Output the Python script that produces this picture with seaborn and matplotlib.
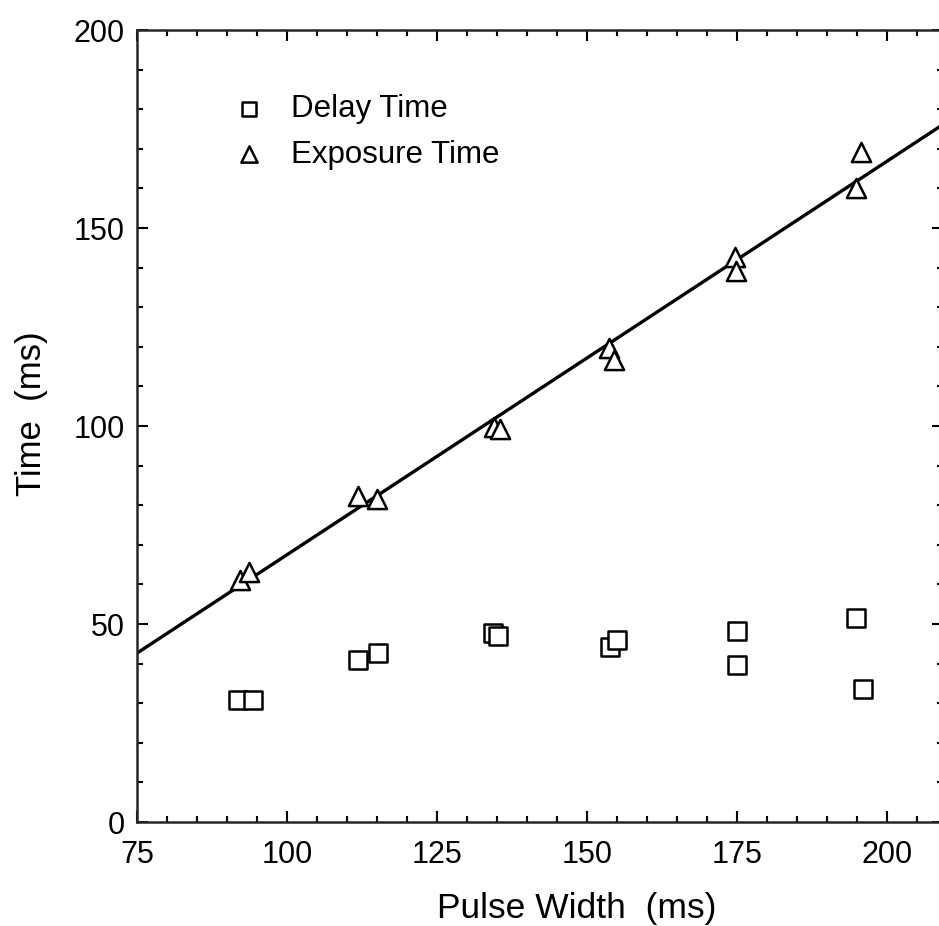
import numpy as np
import pandas as pd
import matplotlib
matplotlib.use("Agg")
import matplotlib.pyplot as plt
from matplotlib.ticker import MultipleLocator
import seaborn as sns

# ============================
# Data
# ============================

delay_pw = [91.9, 94.3, 111.9, 115.1, 134.3, 135.1, 153.8, 154.9, 174.9, 175.0, 194.8, 195.9]
delay_t = [30.8, 30.8, 41.0, 42.8, 47.8, 47.0, 44.2, 46.0, 48.3, 39.7, 51.5, 33.6]

expo_pw = [92.2, 93.6, 111.8, 115.0, 134.5, 135.4, 153.7, 154.5, 174.6, 174.8, 194.8, 195.6]
expo_t = [61.0, 63.2, 82.3, 81.6, 99.7, 99.2, 119.6, 116.6, 142.6, 139.2, 160.0, 169.2]

# least squares line drawn through the exposure points
fit_slope = 0.994
fit_intercept = -31.9

df_delay = pd.DataFrame({"Pulse Width": delay_pw, "Time": delay_t})
df_expo = pd.DataFrame({"Pulse Width": expo_pw, "Time": expo_t})

sns.set_style("ticks")
plt.rcParams["font.family"] = ["Liberation Sans", "DejaVu Sans"]
plt.rcParams["text.color"] = "black"
plt.rcParams["axes.labelcolor"] = "black"

fig = plt.figure(figsize=(9.39, 9.26), dpi=100)
# the scan is cut on the right, so the right spine sits just past the edge
ax = fig.add_axes([0.1459, 0.1123, 0.8584, 0.8553])

x_lo, x_hi = 75, 209.3
xs = np.array([x_lo, x_hi])
sns.lineplot(x=xs, y=fit_slope * xs + fit_intercept, color="black", lw=2.4, ax=ax)

sns.scatterplot(data=df_delay, x="Pulse Width", y="Time", marker="s", s=150,
                facecolor="white", edgecolor="black", linewidth=1.8,
                label="Delay Time", ax=ax, zorder=3)
sns.scatterplot(data=df_expo, x="Pulse Width", y="Time", marker="^", s=190,
                facecolor="white", edgecolor="black", linewidth=1.8,
                label="Exposure Time", ax=ax, zorder=3)

ax.set_xlim(x_lo, x_hi)
ax.set_ylim(0, 200)
ax.xaxis.set_major_locator(MultipleLocator(25))
ax.xaxis.set_minor_locator(MultipleLocator(5))
ax.yaxis.set_major_locator(MultipleLocator(50))
ax.yaxis.set_minor_locator(MultipleLocator(10))

for sp in ax.spines.values():
    sp.set_linewidth(1.8)
    sp.set_visible(True)
ax.tick_params(which="both", direction="in", top=True, right=True, width=1.5,
               labelsize=22, colors="black")
ax.tick_params(which="major", length=8, pad=9)
ax.tick_params(axis="x", which="major", pad=13)
ax.tick_params(which="minor", length=4)

ax.set_xlabel("Pulse Width  (ms)", fontsize=25.5)
ax.set_ylabel("Time  (ms)", fontsize=25)
ax.xaxis.set_label_coords(0.545, -0.088)
ax.yaxis.set_label_coords(-0.111, 0.516)

leg = ax.legend(loc="upper left", bbox_to_anchor=(0.085, 0.935), frameon=False,
                fontsize=22.5, handletextpad=0.35, labelspacing=0.5,
                borderaxespad=0, markerscale=0.85)

fig.savefig("out.png", dpi=100)
